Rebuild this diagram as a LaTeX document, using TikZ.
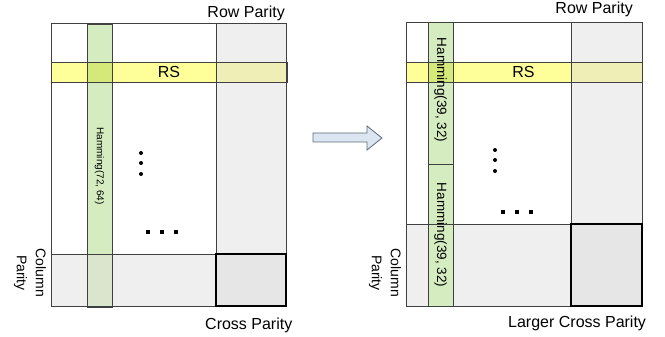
\documentclass[tikz,border=0pt]{standalone}
\usepackage{fontspec}
\setmainfont{Liberation Sans}
\usetikzlibrary{calc}
\definecolor{rsyellow}{HTML}{FFFF99}
\definecolor{rsgray}{HTML}{EEEEB6}
\definecolor{rsgreen}{HTML}{D5E87A}
\definecolor{hamgreen}{HTML}{D5ECC0}
\definecolor{colgreen}{HTML}{D9E5CC}
\definecolor{paritygray}{HTML}{EFEFEF}
\definecolor{crossgray}{HTML}{E6E6E6}
\definecolor{arrowblue}{HTML}{DCE6F2}
\definecolor{arrowline}{HTML}{5F6B7A}
\tikzset{
  edge/.style={draw=black!75, line width=0.8pt},
  crossbox/.style={fill=crossgray, draw=black, line width=1.6pt},
  caption/.style={inner sep=0pt, font=\fontsize{16}{18}\selectfont},
  hamtext/.style={inner sep=0pt, rotate=-90},
  coltext/.style={inner sep=0pt, rotate=-90, align=center,
    font=\fontsize{14}{19}\selectfont}
}

\begin{document}
\begin{tikzpicture}[x=1pt,y=-1pt]
  \useasboundingbox (0,0) rectangle (665,337);

  % Left block
  \coordinate (LA) at (51,23);
  \coordinate (LB) at (286,306);
  \fill[white] (LA) rectangle (LB);
  \fill[paritygray] (216,23) rectangle (286,306);
  \fill[paritygray] (51,254) rectangle (286,306);
  \fill[rsyellow] (51,62) rectangle (216,82);
  \fill[rsgray] (216,62) rectangle (286,82);
  \fill[hamgreen] (87,24) rectangle (112,254);
  \fill[rsgreen] (87,62) rectangle (112,82);
  \fill[colgreen] (87,254) rectangle (112,307);
  \draw[edge] (LA) rectangle (LB);
  \draw[edge] (51,62) rectangle (287,82);
  \draw[edge] (216,23) -- (216,254) (51,254) -- (216,254);
  \draw[edge] (87,24) rectangle (112,307);
  \draw[crossbox] (216,254) rectangle (286,306);

  \node[caption, anchor=base east] (rowL) at (285,17.3) {Row Parity};
  \node[caption, anchor=base west] (crossL) at (205,329) {Cross Parity};
  \node[caption] (rsL) at (169,72) {RS};
  \node[hamtext, font=\fontsize{10}{12}\selectfont] (hamL) at (99.5,166) {Hamming(72, 64)};
  \node[coltext] (colL) at (30,273) {Column\\Parity};

  \foreach \y in {153,163,174} \fill (141,\y) circle (2pt);
  \foreach \x in {148,162,176} \fill (\x,232) +(-1.6,-1.6) rectangle +(1.6,1.6);

  % Arrow
  \draw[fill=arrowblue, draw=arrowline, line width=0.8pt]
    (313,133) -- (367,133) -- (367,126) -- (382,138) -- (367,150)
    -- (367,142) -- (313,142) -- cycle;

  % Right block
  \coordinate (RA) at (406,22);
  \coordinate (RB) at (642,306);
  \fill[white] (RA) rectangle (RB);
  \fill[paritygray] (571,22) rectangle (642,306);
  \fill[paritygray] (406,224) rectangle (642,306);
  \fill[rsyellow] (406,62) rectangle (571,82);
  \fill[rsgray] (571,62) rectangle (642,82);
  \fill[hamgreen] (428,22) rectangle (453,306);
  \fill[rsgreen] (428,62) rectangle (453,82);
  \draw[edge] (RA) rectangle (RB);
  \draw[edge] (406,62) rectangle (642,82);
  \draw[edge] (571,22) -- (571,224) (406,224) -- (571,224);
  \draw[edge] (428,22) rectangle (453,306);
  \draw[edge] (428,164) -- (453,164);
  \draw[crossbox] (571,224) rectangle (642,306);

  \node[caption, anchor=base east] (rowR) at (633,14) {Row Parity};
  \node[caption, anchor=base west] (crossR) at (508,327) {Larger Cross Parity};
  \node[caption] (rsR) at (523.5,72) {RS};
  \node[hamtext, font=\fontsize{13.5}{15}\selectfont] (hamRa) at (440.5,90) {Hamming(39, 32)};
  \node[hamtext, font=\fontsize{13.5}{15}\selectfont] (hamRb) at (440.5,235) {Hamming(39, 32)};
  \node[coltext] (colR) at (385,273) {Column\\Parity};

  \foreach \y in {150,160,171} \fill (495,\y) circle (2pt);
  \foreach \x in {503,517,531} \fill (\x,212) +(-1.6,-1.6) rectangle +(1.6,1.6);
\end{tikzpicture}
\end{document}
